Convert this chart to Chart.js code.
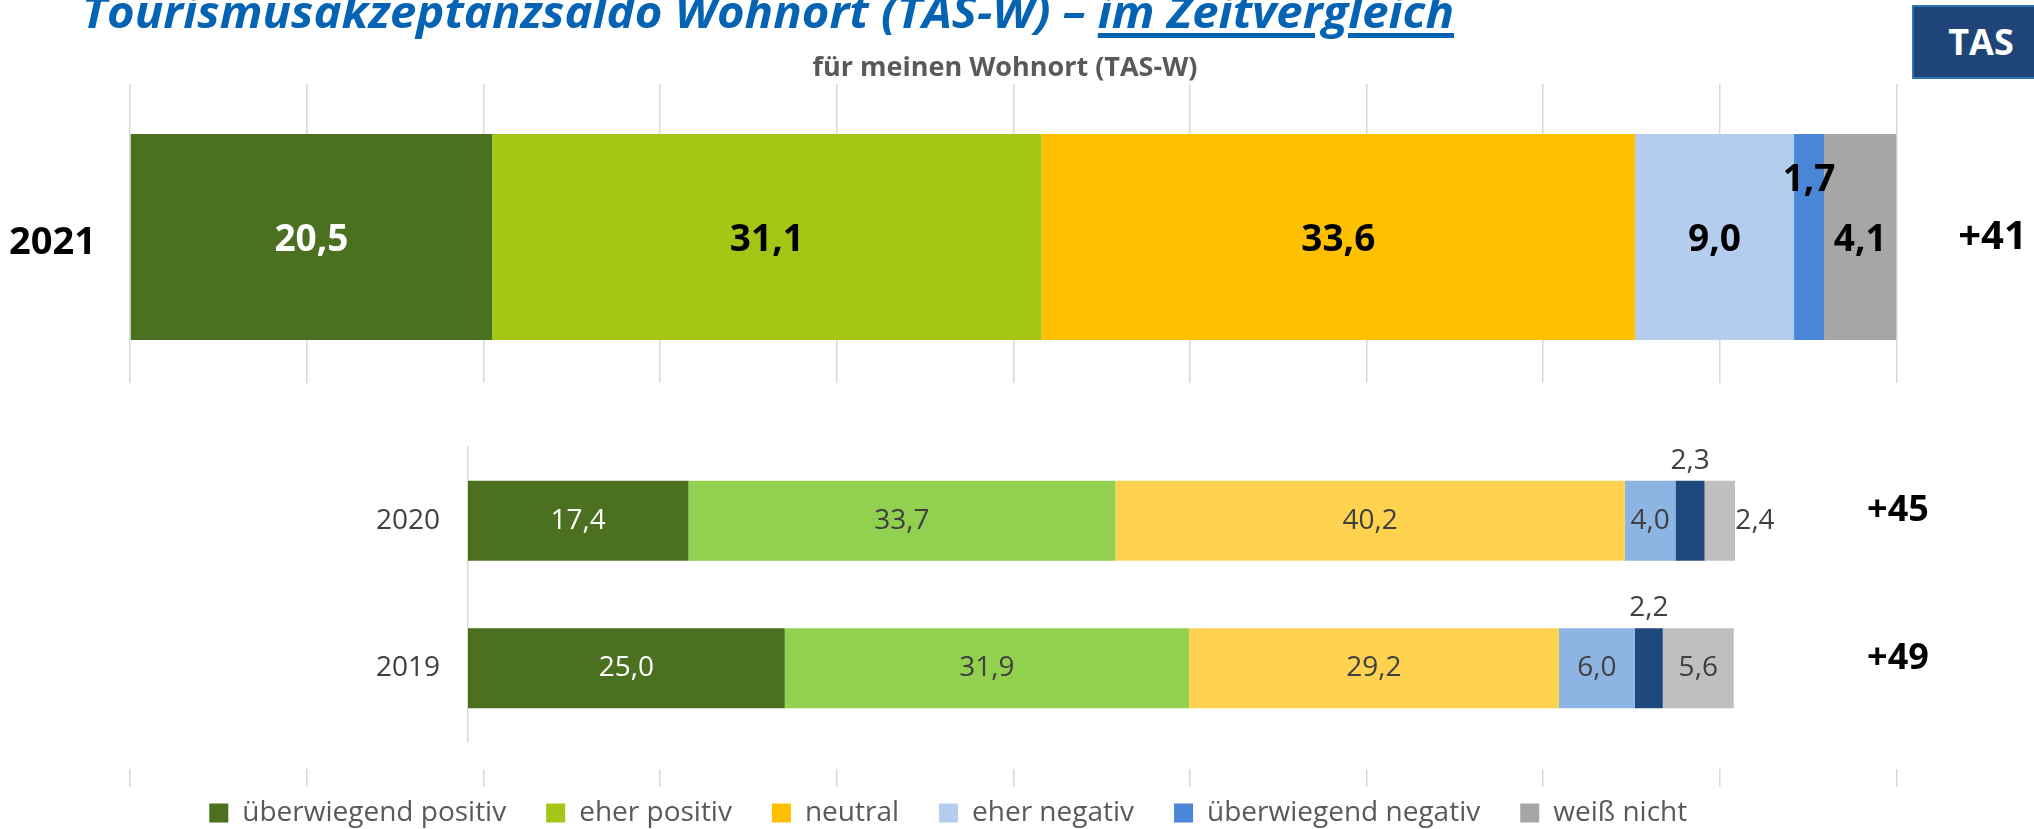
<!DOCTYPE html>
<html lang="de">
<head>
<meta charset="utf-8">
<title>Tourismusakzeptanzsaldo Wohnort (TAS-W)</title>
<script src="https://cdn.jsdelivr.net/npm/chart.js@4.4.1/dist/chart.umd.min.js"></script>
<style>
  html, body { margin: 0; padding: 0; background: #fff; }
  body { width: 2034px; height: 829px; position: relative; overflow: hidden; font-family: "Open Sans", sans-serif; }
  #title {
    position: absolute; left: 82px; top: -11px; white-space: nowrap;
    font: italic bold 44px/44px "Open Sans", sans-serif; color: #0563B4;
    transform-origin: 0 0;
  }
  #title u { text-decoration-thickness: 5px; text-underline-offset: 5px; }
  #subtitle {
    position: absolute; left: 0; width: 2010px; top: 50px; text-align: center;
    font: bold 27px/32px "Open Sans", sans-serif; color: #595959;
  }
  #tas {
    position: absolute; left: 1912px; top: 5px; width: 138px; height: 74px; box-sizing: border-box;
    background: #1F4478; border: 2px solid #2E75B6; color: #fff; text-align: center;
    font: bold 36px/70px "Open Sans", sans-serif;
  }
  #chartTop { position: absolute; left: 0; top: 0; }
  #chartBottom { position: absolute; left: 0; top: 383px; background: #fff; }
</style>
</head>
<body>
<canvas id="chartTop" width="2034" height="829"></canvas>
<canvas id="chartBottom" width="2034" height="386"></canvas>
<div id="title">Tourismusakzeptanzsaldo Wohnort (TAS-W) – <u>im Zeitvergleich</u></div>
<div id="subtitle">für meinen Wohnort (TAS-W)</div>
<div id="tas">TAS</div>
<script>
// Daten (Jahre: 2021, 2020, 2019)
const jahre = ['2021', '2020', '2019'];
const kategorien = ['überwiegend positiv', 'eher positiv', 'neutral', 'eher negativ', 'überwiegend negativ', 'weiß nicht'];
const ueberwiegendPositiv = [20.5, 17.4, 25.0];
const eherPositiv = [31.1, 33.7, 31.9];
const neutral = [33.6, 40.2, 29.2];
const eherNegativ = [9.0, 4.0, 6.0];
const ueberwiegendNegativ = [1.7, 2.3, 2.2];
const weissNicht = [4.1, 2.4, 5.6];
const saldo = [41, 45, 49];

const reihen = [ueberwiegendPositiv, eherPositiv, neutral, eherNegativ, ueberwiegendNegativ, weissNicht];
const farbenTop = ['#4B7120', '#A5C615', '#FFC000', '#B4CDEE', '#4A86D8', '#A6A6A6'];
const farbenBottom = ['#4A7020', '#92D050', '#FFD34F', '#8EB4E3', '#1F497D', '#BFBFBF'];

// Titel auf Breite bringen
const titel = document.getElementById('title');
titel.style.transform = 'scaleX(' + (1372 / titel.getBoundingClientRect().width) + ')';

// Werte in die Balken schreiben
const wertLabels = {
    id: 'wertLabels',
    afterDatasetsDraw(chart, args, opts) {
        const ctx = chart.ctx;
        ctx.save();
        ctx.font = opts.font;
        ctx.textAlign = 'center';
        ctx.textBaseline = 'middle';
        chart.data.datasets.forEach((ds, i) => {
            chart.getDatasetMeta(i).data.forEach((bar, j) => {
                const v = ds.data[j];
                const p = bar.getProps(['x', 'y', 'base'], true);
                let tx = (p.x + p.base) / 2;
                let ty = p.y + (opts.dy || 0);
                if (i === opts.obenIndex) ty -= opts.obenAbstand;
                if (i === opts.aussenIndex && v < opts.aussenUnter) tx = p.x + opts.aussenAbstand;
                ctx.fillStyle = opts.farben[i];
                ctx.fillText(v.toFixed(1).replace('.', ','), tx, ty);
            });
        });
        ctx.restore();
    }
};

// Saldo rechts neben den Balken
const saldoLabels = {
    id: 'saldoLabels',
    afterDraw(chart, args, opts) {
        const ctx = chart.ctx;
        const y = chart.scales.y;
        ctx.save();
        ctx.font = opts.font;
        ctx.fillStyle = '#000';
        ctx.textAlign = 'center';
        ctx.textBaseline = 'middle';
        opts.werte.forEach((w, i) => {
            ctx.fillText('+' + w, chart.chartArea.right + opts.abstand, y.getPixelForValue(i) + opts.dy);
        });
        ctx.restore();
    }
};

function datensaetze(von, bis, farben) {
    return kategorien.map((k, i) => ({
        label: k,
        data: reihen[i].slice(von, bis),
        backgroundColor: farben[i],
        borderWidth: 0
    }));
}

// Oberes Diagramm: 2021
const chartTop = new Chart(document.getElementById('chartTop'), {
    type: 'bar',
    data: { labels: jahre.slice(0, 1), datasets: datensaetze(0, 1, farbenTop) },
    options: {
        indexAxis: 'y',
        responsive: false,
        animation: false,
        devicePixelRatio: 1,
        layout: { padding: { left: 0, right: 137.5, top: 84, bottom: -8 } },
        datasets: { bar: { categoryPercentage: 1, barPercentage: 0.673 } },
        scales: {
            x: {
                stacked: true, min: 0, max: 100,
                ticks: { display: false, stepSize: 10 },
                grid: { color: '#d9d9d9', tickColor: '#d9d9d9', lineWidth: 1.5, drawTicks: true, tickLength: 397 },
                border: { display: false }
            },
            y: {
                stacked: true,
                grid: { display: false },
                border: { display: false },
                ticks: { color: '#000', font: { family: 'Open Sans', size: 38, weight: 'bold' }, padding: 26, labelOffset: 6 },
                afterFit(scale) { scale.width = 130; }
            }
        },
        plugins: {
            legend: {
                position: 'bottom',
                labels: {
                    color: '#595959',
                    font: { family: 'Open Sans', size: 28 },
                    boxWidth: 19,
                    boxHeight: 19,
                    padding: 12,
                    generateLabels(chart) {
                        const items = Chart.defaults.plugins.legend.labels.generateLabels(chart);
                        return items.map((it, i) => Object.assign(it, { text: i < items.length - 1 ? it.text + '\u2003' : it.text }));
                    }
                }
            },
            tooltip: { enabled: false },
            wertLabels: {
                font: 'bold 37px "Open Sans"',
                farben: ['#fff', '#000', '#000', '#000', '#000', '#000'],
                dy: 3,
                obenIndex: 4, obenAbstand: 60
            },
            saldoLabels: { werte: saldo.slice(0, 1), font: 'bold 40px "Open Sans"', abstand: 96, dy: 1 }
        }
    },
    plugins: [wertLabels, saldoLabels]
});

// Unteres Diagramm: 2020 und 2019
const chartBottom = new Chart(document.getElementById('chartBottom'), {
    type: 'bar',
    data: { labels: jahre.slice(1), datasets: datensaetze(1, 3, farbenBottom) },
    options: {
        indexAxis: 'y',
        responsive: false,
        animation: false,
        devicePixelRatio: 1,
        layout: { padding: { left: 0, right: 299, top: 64, bottom: 27 } },
        datasets: { bar: { categoryPercentage: 1, barPercentage: 0.542 } },
        scales: {
            x: { stacked: true, min: 0, max: 100, display: false },
            y: {
                stacked: true,
                grid: { display: true, drawOnChartArea: false, drawTicks: true, tickLength: 20, tickColor: 'rgba(0,0,0,0)' },
                border: { display: true, color: '#d9d9d9', width: 1.5 },
                ticks: { color: '#404040', font: { family: 'Open Sans', size: 28 }, padding: 8 },
                afterFit(scale) { scale.width = 468; }
            }
        },
        plugins: {
            legend: { display: false },
            tooltip: { enabled: false },
            wertLabels: {
                font: '28px "Open Sans"',
                farben: ['#fff', '#404040', '#404040', '#404040', '#404040', '#404040'],
                obenIndex: 4, obenAbstand: 60,
                aussenIndex: 5, aussenUnter: 3, aussenAbstand: 20
            },
            saldoLabels: { werte: saldo.slice(1), font: 'bold 36px "Open Sans"', abstand: 163, dy: -10 }
        }
    },
    plugins: [wertLabels, saldoLabels]
});
</script>
</body>
</html>
